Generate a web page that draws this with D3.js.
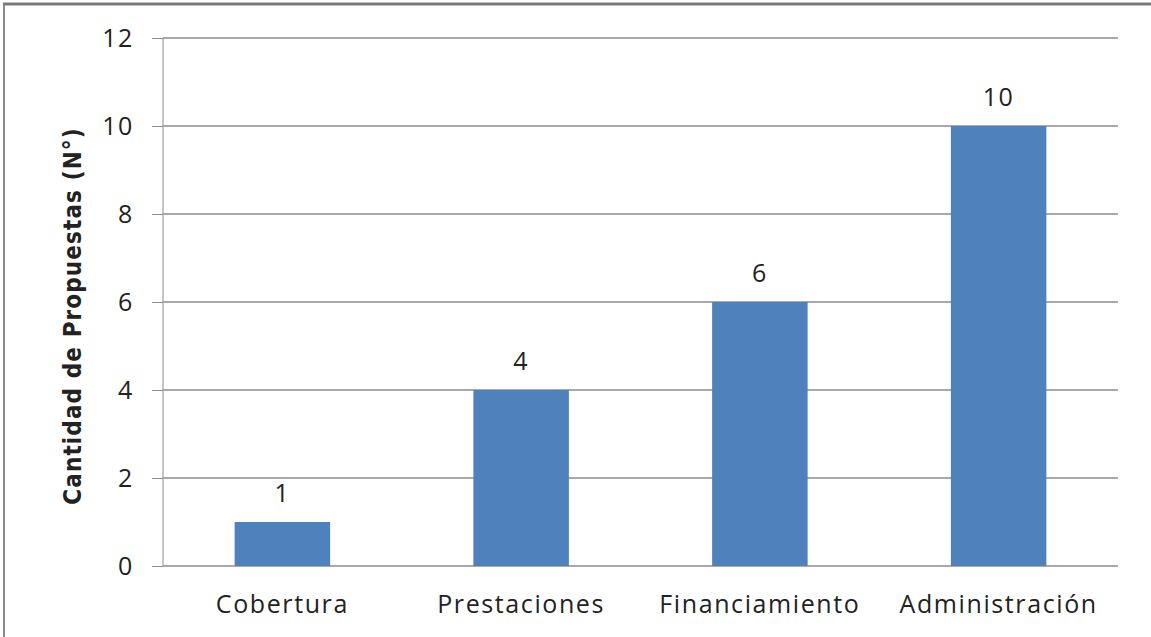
<!DOCTYPE html>
<html><head><meta charset="utf-8">
<script src="https://cdn.jsdelivr.net/npm/d3@7"></script>
<style>body{margin:0;background:#fff}svg{display:block}</style>
</head><body>
<svg id="c" width="1151" height="637"></svg>
<script>
const categories = ["Cobertura", "Prestaciones", "Financiamiento", "Administración"];
const values = [1, 4, 6, 10];
const yTicks = [0, 2, 4, 6, 8, 10, 12];
const yTitle = "Cantidad de Propuestas (N°)";

const svg = d3.select("#c");
const W = 1151, H = 637;
const m = {left: 163, right: 1118, top: 38, bottom: 566};
const font = "'Open Sans', sans-serif";
const txt = "#222";
const fs = 25, ls = 1.6;

// frame
svg.append("line").attr("x1", 4).attr("x2", 4).attr("y1", 3).attr("y2", H).attr("stroke", "#8a8a8a").attr("stroke-width", 2);
svg.append("line").attr("x1", 3).attr("x2", W).attr("y1", 4).attr("y2", 4).attr("stroke", "#7a7a7a").attr("stroke-width", 3);

const x = d3.scaleBand().domain(categories).range([m.left, m.right]).paddingInner(0.6).paddingOuter(0.3);
const y = d3.scaleLinear().domain([0, 12]).range([m.bottom, m.top]);

const yAxis = d3.axisLeft(y).tickValues(yTicks).tickSize(11).tickPadding(18);
const gy = svg.append("g").attr("transform", `translate(${m.left},0)`).call(yAxis);
gy.select(".domain").attr("stroke", "#8c8c8c").attr("d", `M0,${m.top}V${m.bottom}`);
gy.selectAll(".tick line").attr("stroke", "#8c8c8c");
gy.selectAll(".tick text").attr("font-family", font).attr("font-size", fs).attr("letter-spacing", ls).attr("fill", txt);

svg.append("g").selectAll("line").data(yTicks).join("line")
  .attr("x1", m.left).attr("x2", m.right)
  .attr("y1", d => y(d)).attr("y2", d => y(d))
  .attr("stroke", "#8c8c8c").attr("stroke-width", 1.5);

svg.append("g").selectAll("rect").data(values).join("rect")
  .attr("x", (d, i) => x(categories[i]))
  .attr("width", x.bandwidth())
  .attr("y", d => y(d))
  .attr("height", d => y(0) - y(d))
  .attr("fill", "#4f81bd");

svg.append("g").selectAll("text").data(values).join("text")
  .attr("x", (d, i) => x(categories[i]) + x.bandwidth() / 2)
  .attr("y", d => y(d) - 20)
  .attr("text-anchor", "middle")
  .attr("font-family", font).attr("font-size", fs).attr("letter-spacing", ls).attr("fill", txt)
  .text(d => d);

svg.append("g").selectAll("text").data(categories).join("text")
  .attr("x", d => x(d) + x.bandwidth() / 2)
  .attr("y", 613)
  .attr("text-anchor", "middle")
  .attr("font-family", font).attr("font-size", fs).attr("letter-spacing", ls).attr("fill", txt)
  .text(d => d);

svg.append("text")
  .attr("transform", `translate(81,316) rotate(-90)`)
  .attr("text-anchor", "middle")
  .attr("font-family", "'DejaVu Sans Condensed', 'DejaVu Sans', sans-serif")
  .attr("font-stretch", "condensed")
  .attr("font-weight", "bold").attr("font-size", 24).attr("letter-spacing", 1.1).attr("fill", txt)
  .text(yTitle);
</script>
</body></html>
